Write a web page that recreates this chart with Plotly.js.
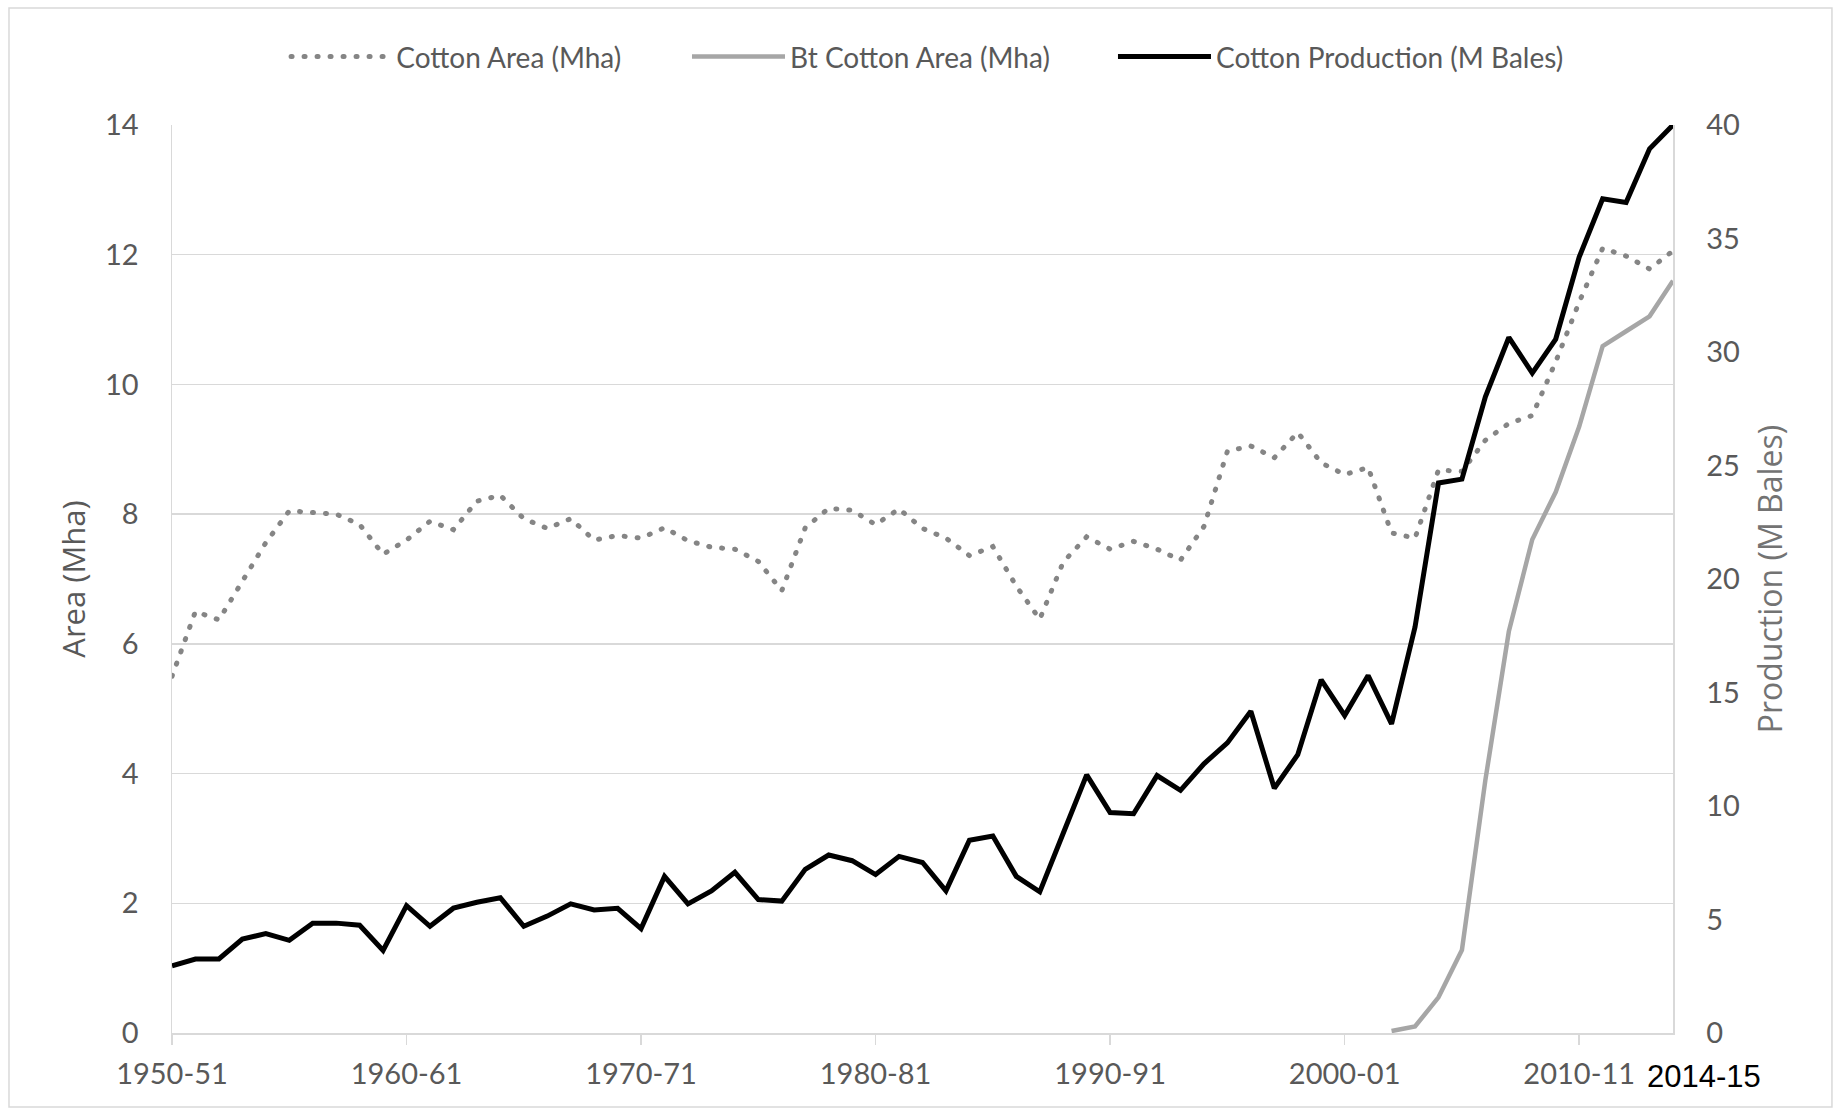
<!DOCTYPE html>
<html>
<head>
<meta charset="utf-8">
<script src="https://cdn.plot.ly/plotly-3.0.1.min.js"></script>
<style>html,body{margin:0;padding:0;background:#fff;}#chart{width:1837px;height:1111px;}</style>
</head>
<body>
<div id="chart"></div>
<script>
const seasons = ["1950-51","1951-52","1952-53","1953-54","1954-55","1955-56","1956-57","1957-58","1958-59","1959-60",
"1960-61","1961-62","1962-63","1963-64","1964-65","1965-66","1966-67","1967-68","1968-69","1969-70",
"1970-71","1971-72","1972-73","1973-74","1974-75","1975-76","1976-77","1977-78","1978-79","1979-80",
"1980-81","1981-82","1982-83","1983-84","1984-85","1985-86","1986-87","1987-88","1988-89","1989-90",
"1990-91","1991-92","1992-93","1993-94","1994-95","1995-96","1996-97","1997-98","1998-99","1999-00",
"2000-01","2001-02","2002-03","2003-04","2004-05","2005-06","2006-07","2007-08","2008-09","2009-10",
"2010-11","2011-12","2012-13","2013-14","2014-15"];

const tickSeasons = ["1950-51","1960-61","1970-71","1980-81","1990-91","2000-01","2010-11"];

const cottonArea = [5.5,6.5,6.37,6.96,7.56,8.05,8.02,8.0,7.84,7.38,
7.6,7.89,7.76,8.2,8.29,7.93,7.78,7.93,7.6,7.67,
7.63,7.79,7.59,7.49,7.46,7.27,6.82,7.79,8.09,8.06,
7.84,8.08,7.78,7.63,7.36,7.5,6.89,6.38,7.26,7.65,
7.46,7.58,7.46,7.29,7.81,8.97,9.05,8.87,9.26,8.79,
8.61,8.72,7.71,7.63,8.68,8.66,9.14,9.4,9.52,10.35,
11.27,12.1,11.98,11.78,12.06];

const btCottonArea = [null,null,null,null,null,null,null,null,null,null,
null,null,null,null,null,null,null,null,null,null,
null,null,null,null,null,null,null,null,null,null,
null,null,null,null,null,null,null,null,null,null,
null,null,null,null,null,null,null,null,null,null,
null,null,0.03,0.1,0.55,1.28,3.9,6.19,7.61,8.34,
9.35,10.59,10.82,11.05,11.6];

const cottonProduction = [2.96,3.26,3.26,4.14,4.38,4.08,4.84,4.84,4.75,3.64,
5.61,4.7,5.5,5.76,5.96,4.7,5.15,5.69,5.42,5.49,
4.6,6.9,5.69,6.26,7.08,5.88,5.81,7.21,7.84,7.59,
6.98,7.78,7.51,6.26,8.49,8.68,6.9,6.22,8.8,11.37,
9.71,9.66,11.34,10.69,11.86,12.78,14.17,10.78,12.26,15.56,
13.99,15.75,13.62,17.88,24.23,24.4,28.03,30.64,29.07,30.57,
34.18,36.75,36.59,38.95,40.0];

const seriesNames = ["Cotton Area (Mha)","Bt Cotton Area (Mha)","Cotton Production (M Bales)"];
const extraLabel = "2014-15";

const GRID = '#d9d9d9';
const TXT = '#595959';
const FONT = 'Lato, Carlito, "Open Sans", sans-serif';

const traces = [
  {x: seasons, y: cottonArea, name: '\u00a0' + seriesNames[0], type:'scatter', mode:'lines', yaxis:'y', legend:'legend',
   line:{color:'#858585', width:5, dash:'1px,12px'}, cliponaxis:false, hoverinfo:'skip'},
  {x: seasons, y: btCottonArea, name: seriesNames[1], type:'scatter', mode:'lines', yaxis:'y', legend:'legend2',
   line:{color:'#a6a6a6', width:4.5}, connectgaps:false, cliponaxis:false, hoverinfo:'skip'},
  {x: seasons, y: cottonProduction, name: seriesNames[2], type:'scatter', mode:'lines', yaxis:'y2', legend:'legend3',
   line:{color:'#000000', width:5}, cliponaxis:false, hoverinfo:'skip'}
];

const legBase = {orientation:'h', xanchor:'left', yanchor:'middle', y:1.075, itemwidth:93,
  font:{family:FONT, size:28, color:TXT}, bgcolor:'rgba(0,0,0,0)', borderwidth:0, tracegroupgap:0};

const layout = {
  width:1837, height:1111,
  margin:{l:172, r:164, t:125, b:78, pad:0},
  paper_bgcolor:'#ffffff', plot_bgcolor:'#ffffff',
  font:{family:FONT, size:28, color:TXT},
  showlegend:true,
  legend: Object.assign({}, legBase, {x:0.0760}),
  legend2: Object.assign({}, legBase, {x:0.3431}),
  legend3: Object.assign({}, legBase, {x:0.6269}),
  xaxis:{type:'category', categoryorder:'array', categoryarray:seasons, range:[0,64], autorange:false,
    tickmode:'array', tickvals:tickSeasons, ticktext:tickSeasons,
    ticks:'outside', ticklen:10, tickwidth:1.5, tickcolor:GRID,
    showline:true, linecolor:GRID, linewidth:1.5, showgrid:false, zeroline:false,
    tickfont:{family:FONT, size:29, color:TXT}, ticklabelstandoff:5, fixedrange:true},
  yaxis:{range:[0,14], autorange:false, tick0:0, dtick:2, showgrid:true, gridcolor:GRID, gridwidth:1.5,
    showline:true, linecolor:GRID, linewidth:1.5, zeroline:false, ticks:'',
    tickfont:{family:FONT, size:29, color:TXT}, ticklabelstandoff:26,
    title:{text:'Area (Mha)', font:{family:'"Open Sans", sans-serif', size:31, color:TXT}, standoff:10}, fixedrange:true},
  yaxis2:{overlaying:'y', side:'right', range:[0,40], autorange:false, tick0:0, dtick:5, showgrid:false,
    showline:true, linecolor:GRID, linewidth:1.5, zeroline:false, ticks:'',
    tickfont:{family:FONT, size:29, color:TXT}, ticklabelstandoff:26,
    title:{text:'Production (M Bales)', font:{family:'"Open Sans", sans-serif', size:32, color:'#737373'}, standoff:20}, fixedrange:true},
  annotations:[{text:extraLabel, xref:'paper', yref:'paper', x:1.0207, y:-0.0474, xanchor:'center', yanchor:'middle',
    showarrow:false, font:{family:'"Liberation Sans", Arial, sans-serif', size:31, color:'#000000'}}],
  shapes:[{type:'rect', xref:'paper', yref:'paper', x0:-0.1086, x1:1.1059, y0:-0.0815, y1:1.1289,
    line:{color:GRID, width:1.5}, layer:'below'}]
};

Plotly.newPlot('chart', traces, layout, {staticPlot:true, displayModeBar:false}).then(function(gd){
  gd.querySelectorAll('path').forEach(function(p){
    var da = p.style.strokeDasharray;
    if (da && da !== 'none' && da.indexOf('12') >= 0) { p.style.strokeLinecap = 'round'; }
  });
});
</script>
</body>
</html>
